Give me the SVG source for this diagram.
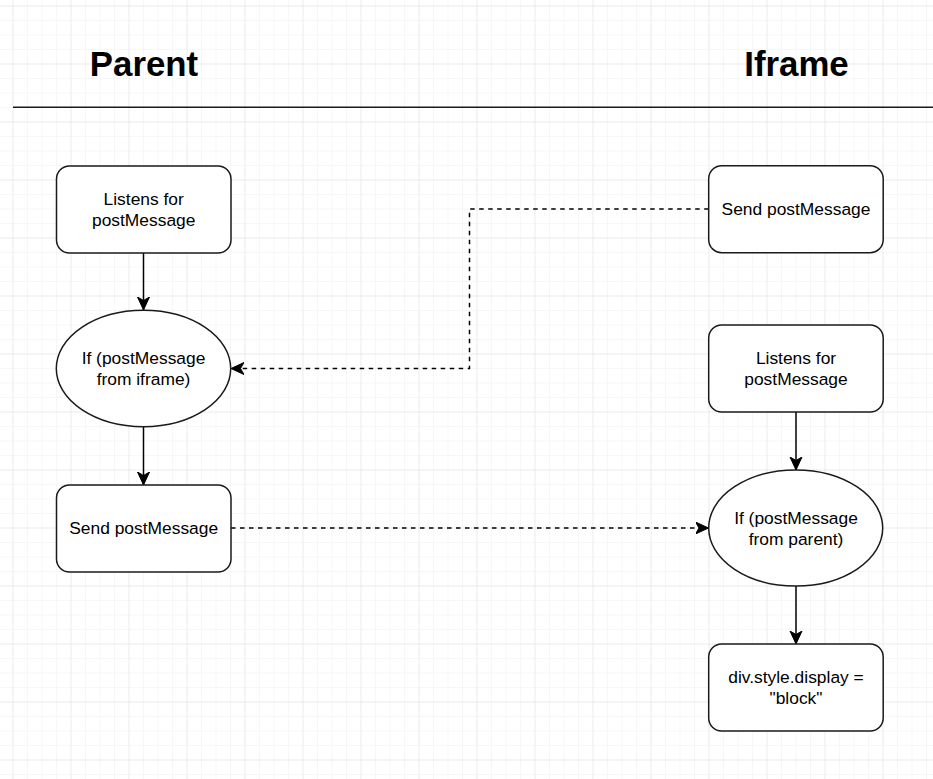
<svg xmlns="http://www.w3.org/2000/svg" width="933" height="779" viewBox="0 0 933 779">
  <defs>
    <pattern id="minor" patternUnits="userSpaceOnUse" x="12.5" y="5.5" width="14.5" height="14.5">
      <path d="M0,0 H14.5 M0,0 V14.5" fill="none" stroke="#f0f0f0" stroke-width="1"/>
    </pattern>
    <pattern id="major" patternUnits="userSpaceOnUse" x="12.5" y="5.5" width="58" height="58">
      <path d="M0,0 H58 M0,0 V58" fill="none" stroke="#e2e2e2" stroke-width="1"/>
    </pattern>
    <marker id="arrow" markerUnits="userSpaceOnUse" markerWidth="14" markerHeight="14" viewBox="0 -7 14 14" refX="13" refY="0" orient="auto">
      <path d="M0,-6 L13,0 L0,6 L3.5,0 Z" fill="#000" stroke="#000" stroke-width="1" stroke-linejoin="miter"/>
    </marker>
    <style>
      .shape { fill: #ffffff; stroke: #1a1a1a; stroke-width: 1.5; }
      .label { font-family: "Liberation Sans", Arial, Helvetica, sans-serif; font-size: 17.4px; fill: #000; text-anchor: middle; }
      .title { font-family: "Liberation Sans", Arial, Helvetica, sans-serif; font-size: 34.8px; font-weight: bold; fill: #000; text-anchor: middle; }
      .edge { fill: none; stroke: #000; stroke-width: 1.5; }
      .dashed { stroke-dasharray: 4.5 4.5; }
    </style>
  </defs>
  <rect x="0" y="0" width="933" height="779" fill="#ffffff"/>
  <rect x="0" y="0" width="933" height="779" fill="url(#minor)"/>
  <rect x="0" y="0" width="933" height="779" fill="url(#major)"/>

  <g id="title-parent"><text class="title" x="144" y="76">Parent</text></g>
  <g id="title-iframe"><text class="title" x="796.5" y="76">Iframe</text></g>
  <g id="divider"><line x1="13" y1="107.3" x2="933" y2="107.3" stroke="#1a1a1a" stroke-width="1.6"/></g>

  <g id="connectors">
    <line class="edge" x1="143.5" y1="253" x2="143.5" y2="310" marker-end="url(#arrow)"/>
    <line class="edge" x1="143.5" y1="426.7" x2="143.5" y2="485" marker-end="url(#arrow)"/>
    <path class="edge dashed" d="M708.7,209 H469.5 V368.5 H231" marker-end="url(#arrow)"/>
    <line class="edge dashed" x1="231" y1="528" x2="708.5" y2="528" marker-end="url(#arrow)"/>
    <line class="edge" x1="796" y1="412" x2="796" y2="470" marker-end="url(#arrow)"/>
    <line class="edge" x1="796" y1="586" x2="796" y2="644" marker-end="url(#arrow)"/>
  </g>

  <g id="parent-listens">
    <rect class="shape" x="56.5" y="166" width="174.5" height="87" rx="13" ry="13"/>
    <text class="label" x="143.7" y="205">Listens for</text>
    <text class="label" x="143.7" y="226">postMessage</text>
  </g>
  <g id="parent-if">
    <ellipse class="shape" cx="143.5" cy="368.5" rx="87.2" ry="58.2"/>
    <text class="label" x="143.5" y="364">If (postMessage</text>
    <text class="label" x="143.5" y="385">from iframe)</text>
  </g>
  <g id="parent-send">
    <rect class="shape" x="56.5" y="485" width="174.5" height="87" rx="13" ry="13"/>
    <text class="label" x="143.7" y="534.3">Send postMessage</text>
  </g>

  <g id="iframe-send">
    <rect class="shape" x="708.7" y="165.7" width="174.5" height="87" rx="13" ry="13"/>
    <text class="label" x="796" y="215">Send postMessage</text>
  </g>
  <g id="iframe-listens">
    <rect class="shape" x="708.7" y="325" width="174.5" height="87" rx="13" ry="13"/>
    <text class="label" x="796" y="364">Listens for</text>
    <text class="label" x="796" y="385">postMessage</text>
  </g>
  <g id="iframe-if">
    <ellipse class="shape" cx="795.7" cy="528" rx="87" ry="58"/>
    <text class="label" x="796" y="524">If (postMessage</text>
    <text class="label" x="796" y="545">from parent)</text>
  </g>
  <g id="iframe-display">
    <rect class="shape" x="708.7" y="644" width="174.5" height="87" rx="13" ry="13"/>
    <text class="label" x="796" y="683">div.style.display =</text>
    <text class="label" x="796" y="704">"block"</text>
  </g>
</svg>
